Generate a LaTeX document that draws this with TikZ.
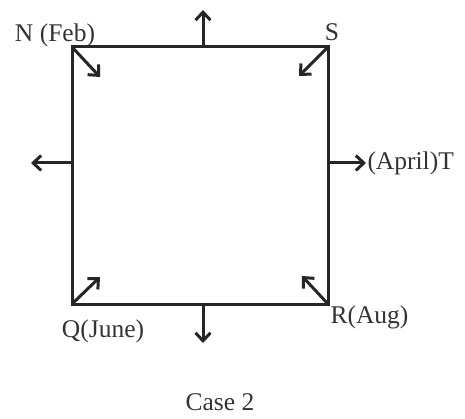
\documentclass[tikz,border=0pt]{standalone}
\usepackage{fontspec}
\setmainfont{Liberation Serif}
\usetikzlibrary{arrows.meta, positioning}

\begin{document}
\begin{tikzpicture}[x=1pt, y=-1pt, >={Straight Barb[length=8pt, width=15pt]}, line width=3pt]

    % Define the styles
    \tikzstyle{lbl} = [font=\fontsize{25.5}{28}\selectfont, text=black!80, inner sep=0pt]
    \tikzstyle{arrow} = [->, line width=3pt, black!85]
    \tikzstyle{side} = [line width=3pt, black!85]

    \useasboundingbox (0,0) rectangle (465,419);

    % Corners
    \coordinate (n) at (72,47);
    \coordinate (s) at (328,47);
    \coordinate (r) at (328,304);
    \coordinate (q) at (72,304);

    % Midpoints of the sides
    \coordinate (top) at (203,47);
    \coordinate (bottom) at (203,304);
    \coordinate (left) at (72,163);
    \coordinate (right) at (328,163);

    % Arrow tips
    \coordinate (ntip) at (100,77);
    \coordinate (stip) at (299,76);
    \coordinate (qtip) at (100,277);
    \coordinate (rtip) at (302,276);
    \coordinate (toptip) at (203,10);
    \coordinate (bottomtip) at (203,343);
    \coordinate (lefttip) at (31,163);
    \coordinate (righttip) at (366,163);

    % Labels
    \node (feb) [lbl, anchor=base] at (55,42) {N (Feb)};
    \node (sname) [lbl, anchor=base] at (332,41) {S};
    \node (april) [lbl, anchor=west] at (righttip) {(April)T};
    \node (june) [lbl, anchor=base] at (103,337) {Q(June)};
    \node (aug) [lbl, anchor=base west] at (329,323) {R(Aug)};
    \node (case) [lbl, anchor=base] at (220,410) {Case 2};

    % Square
    \draw [side] (n) -- (s) -- (r) -- (q) -- cycle;

    % Arrows
    \draw [arrow] (n) -- (ntip);
    \draw [arrow] (s) -- (stip);
    \draw [arrow] (q) -- (qtip);
    \draw [arrow] (r) -- (rtip);
    \draw [arrow] (top) -- (toptip);
    \draw [arrow] (bottom) -- (bottomtip);
    \draw [arrow] (left) -- (lefttip);
    \draw [arrow] (right) -- (righttip);

\end{tikzpicture}
\end{document}
